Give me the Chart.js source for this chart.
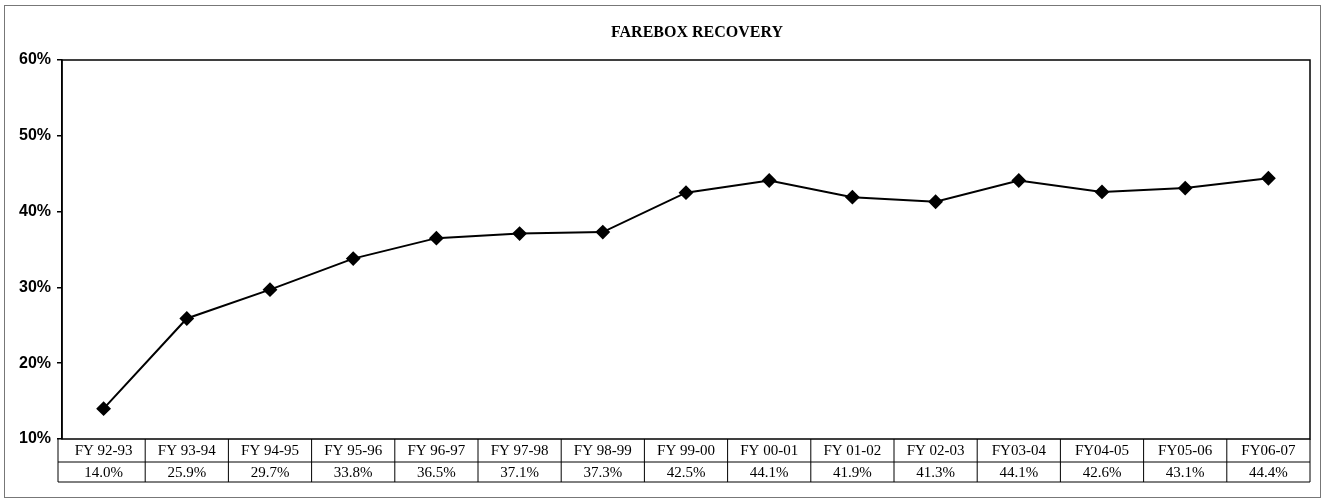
<!DOCTYPE html>
<html>
<head>
<meta charset="utf-8">
<script src="https://cdn.jsdelivr.net/npm/chart.js@4"></script>
<style>
  html, body { margin: 0; padding: 0; background: #fff; }
  #wrap { position: relative; width: 1325px; height: 502px; }
  #frame { position: absolute; left: 4px; top: 5px; width: 1315px; height: 491px; border: 1px solid #777; pointer-events: none; }
</style>
</head>
<body>
<div id="wrap">
  <canvas id="farebox-chart" width="1325" height="502"></canvas>
  <div id="frame"></div>
</div>
<script>
const chartTitle = 'FAREBOX RECOVERY';
const fiscalYears = ['FY 92-93', 'FY 93-94', 'FY 94-95', 'FY 95-96', 'FY 96-97', 'FY 97-98', 'FY 98-99',
    'FY 99-00', 'FY 00-01', 'FY 01-02', 'FY 02-03', 'FY03-04', 'FY04-05', 'FY05-06', 'FY06-07'];
const recoveryPct = [14.0, 25.9, 29.7, 33.8, 36.5, 37.1, 37.3, 42.5, 44.1, 41.9, 41.3, 44.1, 42.6, 43.1, 44.4];
const yTicks = [10, 20, 30, 40, 50, 60];

// title, plot box and the data table under the axis
const tablePlugin = {
    id: 'farebox-table',
    afterDraw(chart) {
        const ctx = chart.ctx;
        const area = chart.chartArea;
        const x = chart.scales.x;
        const rowH1 = 23, rowH2 = 20;
        const step = (area.right - area.left) / fiscalYears.length;

        ctx.save();
        ctx.fillStyle = '#000';
        ctx.font = 'bold 16px "Liberation Serif"';
        ctx.textAlign = 'center';
        ctx.textBaseline = 'middle';
        ctx.fillText(chartTitle, 697, 33);

        ctx.strokeStyle = '#000';
        ctx.lineWidth = 1.5;
        ctx.strokeRect(area.left, area.top, area.right - area.left, area.bottom - area.top);

        const top = area.bottom;
        const left = area.left - 4;
        ctx.lineWidth = 1;
        ctx.beginPath();
        ctx.moveTo(left, top + rowH1);
        ctx.lineTo(area.right, top + rowH1);
        ctx.moveTo(left, top + rowH1 + rowH2);
        ctx.lineTo(area.right, top + rowH1 + rowH2);
        ctx.moveTo(left, top);
        ctx.lineTo(left, top + rowH1 + rowH2);
        fiscalYears.forEach((fy, i) => {
            const bx = x.getPixelForValue(i) + step / 2;
            ctx.moveTo(bx, top);
            ctx.lineTo(bx, top + rowH1 + rowH2);
        });
        ctx.stroke();

        ctx.font = '15px "Liberation Serif"';
        fiscalYears.forEach((fy, i) => {
            const cx = x.getPixelForValue(i);
            ctx.fillText(fy, cx, top + rowH1 / 2 + 1);
            ctx.fillText(recoveryPct[i].toFixed(1) + '%', cx, top + rowH1 + rowH2 / 2 + 1);
        });
        ctx.restore();
    }
};

const ctx = document.getElementById('farebox-chart').getContext('2d');
new Chart(ctx, {
    type: 'line',
    data: {
        labels: fiscalYears,
        datasets: [{
            data: recoveryPct,
            borderColor: '#000',
            borderWidth: 2,
            backgroundColor: '#000',
            pointStyle: 'rectRot',
            pointRadius: 6,
            pointBackgroundColor: '#000',
            tension: 0
        }]
    },
    options: {
        responsive: false,
        animation: false,
        layout: { padding: { top: 60, right: 15, bottom: 55, left: 0 } },
        plugins: {
            legend: { display: false },
            tooltip: { enabled: false }
        },
        scales: {
            x: {
                type: 'category',
                offset: true,
                grid: { display: false },
                border: { display: false },
                ticks: { display: false }
            },
            y: {
                min: yTicks[0],
                max: yTicks[yTicks.length - 1],
                afterFit: scale => { scale.width = 62; },
                afterBuildTicks: scale => { scale.ticks = yTicks.map(v => ({ value: v })); },
                grid: { drawOnChartArea: false, drawTicks: true, tickLength: 5, color: '#000', lineWidth: 1.5 },
                border: { display: true, color: '#000', width: 1.5 },
                ticks: {
                    color: '#000',
                    padding: 6,
                    font: { family: '"Liberation Sans"', size: 16, weight: 'bold' },
                    callback: v => v + '%'
                }
            }
        }
    },
    plugins: [tablePlugin]
});
</script>
</body>
</html>
